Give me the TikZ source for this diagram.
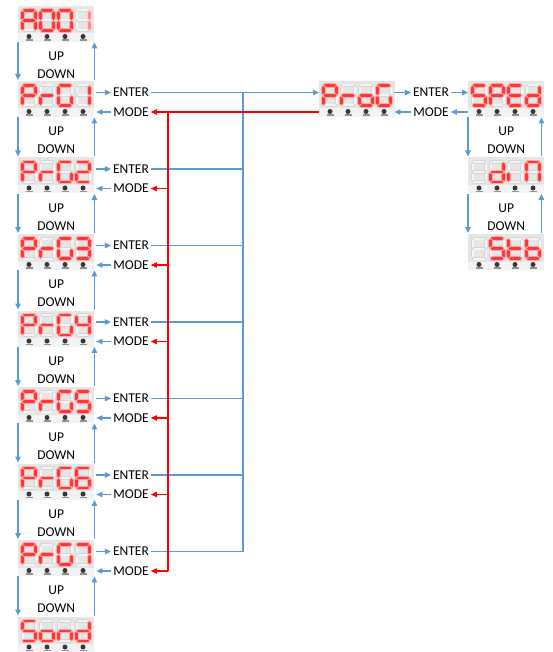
\documentclass[tikz,border=0pt]{standalone}
\usepackage{fontspec}
\setmainfont{Carlito}
\usetikzlibrary{arrows.meta,calc}
\definecolor{lblue}{RGB}{91,155,213}
\definecolor{litred}{RGB}{255,55,55}
\definecolor{glowred}{RGB}{255,170,170}
\definecolor{dimred}{RGB}{255,140,140}
\definecolor{dimglow}{RGB}{255,205,205}
\definecolor{dispbg}{RGB}{230,230,230}
\definecolor{btnbg}{RGB}{243,243,243}
\definecolor{segline}{RGB}{214,214,214}
\definecolor{segfill}{RGB}{245,245,245}
\definecolor{btncol}{RGB}{55,55,55}
\tikzset{
  seg a/.style={insert path={(4,2.5)--(14,2.5)}},
  seg g/.style={insert path={(4,12.5)--(14,12.5)}},
  seg d/.style={insert path={(4,22.5)--(14,22.5)}},
  seg f/.style={insert path={(2.5,4.5)--(2.5,10.5)}},
  seg b/.style={insert path={(15.5,4.5)--(15.5,10.5)}},
  seg e/.style={insert path={(2.5,14.5)--(2.5,20.5)}},
  seg c/.style={insert path={(15.5,14.5)--(15.5,20.5)}},
  seg none/.style={},
  segoff/.style={draw=segline,line width=3.6pt,line cap=round},
  segoffin/.style={draw=segfill,line width=2pt,line cap=round},
  segglow/.style={draw=glowred,line width=4.4pt,line cap=round},
  segon/.style={draw=litred,line width=2.6pt,line cap=round},
  glowfour/.style={segglow},
  onfour/.style={segon},
  btn/.style={fill=btncol},
  btnfoot/.style={draw=btncol!55,line width=1.2pt},
  pics/disp/.style n args={4}{code={
    \fill[dispbg] (-2,-2) rectangle (74,25.5);
    \fill[btnbg] (-2,25.5) rectangle (74,34);
    \foreach \i in {0,1,2,3}{
      \begin{scope}[shift={(\i*18,0)}]
        \foreach \s in {a,b,c,d,e,f,g}{\draw[segoff,seg \s];\draw[segoffin,seg \s];}
        \fill[btn] (9,28.5) circle[radius=2.5pt];
        \draw[btnfoot] (5.5,32) -- (12.5,32);
      \end{scope}}
    \begin{scope}\foreach \s in {#1}{\draw[segglow,seg \s];\draw[segon,seg \s];}\end{scope}
    \begin{scope}[shift={(18,0)}]\foreach \s in {#2}{\draw[segglow,seg \s];\draw[segon,seg \s];}\end{scope}
    \begin{scope}[shift={(36,0)}]\foreach \s in {#3}{\draw[segglow,seg \s];\draw[segon,seg \s];}\end{scope}
    \begin{scope}[shift={(54,0)}]\foreach \s in {#4}{\draw[glowfour,seg \s];\draw[onfour,seg \s];}\end{scope}
  }},
  lbl/.style={inner sep=2pt,text=black},
  dbox/.style={minimum width=76pt,minimum height=37pt,inner sep=0pt,anchor=north west},
  barr/.style={draw=lblue,line width=1.1pt,-{Triangle[length=6pt,width=5.5pt]}},
  bline/.style={draw=lblue,line width=1.1pt},
  rline/.style={draw=red,line width=1.1pt},
  rarr/.style={rline,-{Triangle[length=6pt,width=5.5pt]}},
}
\newcommand\leftrow[3]{\node[dbox] (#1) at (18,#2-3) {};\pic at (20,#2) {disp=#3};}
\begin{document}
\begin{tikzpicture}[x=1pt,y=-1pt,font=\fontsize{13.5}{16}\selectfont]
\useasboundingbox (0,0) rectangle (552,652);
% left column displays
\node[dbox] (L0) at (18,5) {};
\pic[glowfour/.style={draw=dimglow,line width=4.4pt,line cap=round},onfour/.style={draw=dimred,line width=2.6pt,line cap=round}] at (20,8) {disp={a,b,c,e,f,g}{a,b,c,d,e,f}{a,b,c,d,e,f}{b,c}};
\leftrow{L1}{83}{{a,b,e,f,g}{e,g}{a,c,d,e,f}{b,c}}
\leftrow{L2}{159.5}{{a,b,e,f,g}{e,g}{a,c,d,e,f}{a,b,d,e,g}}
\leftrow{L3}{236}{{a,b,e,f,g}{e,g}{a,c,d,e,f}{a,b,c,d,g}}
\leftrow{L4}{312.5}{{a,b,e,f,g}{e,g}{a,c,d,e,f}{b,c,f,g}}
\leftrow{L5}{389}{{a,b,e,f,g}{e,g}{a,c,d,e,f}{a,c,d,f,g}}
\leftrow{L6}{465.5}{{a,b,e,f,g}{e,g}{a,c,d,e,f}{a,c,d,e,f,g}}
\leftrow{L7}{542}{{a,b,e,f,g}{e,g}{a,c,d,e,f}{a,b,c}}
\leftrow{L8}{618.5}{{a,c,d,f,g}{c,d,e,g}{c,e,g}{b,c,d,e,g}}
% right displays
\node[dbox] (PG) at (319,80) {};
\pic at (321,83) {disp={a,b,e,f,g}{e,g}{c,d,e,g}{a,c,d,e,f}};
\node[dbox] (R0) at (468,80) {};
\pic at (470,83) {disp={a,c,d,f,g}{a,b,e,f,g}{a,d,e,f,g}{b,c,d,e,g}};
\node[dbox] (R1) at (468,156.5) {};
\pic at (470,159.5) {disp={none}{b,c,d,e,g}{e}{a,b,c,e,f}};
\node[dbox] (R2) at (468,233) {};
\pic at (470,236) {disp={none}{a,c,d,f,g}{d,e,f,g}{c,d,e,f,g}};
% up/down left
\foreach \i [evaluate=\i as \j using int(\i+1)] in {0,...,7}{
  \draw[barr] (L\i.south west) -- (L\j.north west);
  \draw[barr] (L\j.north east) -- (L\i.south east);
  \node[lbl] (up\i) at ([yshift=-14pt]L\i.south) {UP};
  \node[lbl] (dn\i) at ([yshift=-32pt]L\i.south) {DOWN};
}
% up/down right
\foreach \i/\j in {0/1,1/2}{
  \draw[barr] (R\i.south west) -- (R\j.north west);
  \draw[barr] ([xshift=-3pt]R\j.north east) -- ([xshift=-3pt]R\i.south east);
  \node[lbl] (rup\i) at ([yshift=-14pt]R\i.south) {UP};
  \node[lbl] (rdn\i) at ([yshift=-32pt]R\i.south) {DOWN};
}
% enter / mode rows
\foreach \k [evaluate=\k as \ty using 83+76.5*(\k-1)] in {1,...,7}{
  \node[lbl] (en\k) at (131,\ty+9.5) {ENTER};
  \node[lbl] (mo\k) at (131,\ty+29) {MODE};
  \draw[barr,shorten <=2pt] (L\k.east |- en\k) -- (en\k.west);
  \draw[barr,shorten >=2pt] (mo\k.west) -- (L\k.east |- mo\k);
}
\coordinate (bus) at (243,0);
\coordinate (rbus) at (168,0);
\draw[barr] (en1.east) -- (PG.west |- en1);
\draw[bline] (bus |- en1) -- (bus |- en7);
\foreach \k in {2,...,7} \draw[bline] (en\k.east) -- (bus |- en\k);
\draw[rarr] (PG.west |- mo1) -- (mo1.east);
\draw[rline] (rbus |- mo1) -- (rbus |- mo7);
\foreach \k in {2,...,7} \draw[rarr] (rbus |- mo\k) -- (mo\k.east);
% right enter/mode
\node[lbl] (enR) at (431,92.5) {ENTER};
\node[lbl] (moR) at (431,112) {MODE};
\draw[barr,shorten <=-1pt] (PG.east |- enR) -- (enR.west);
\draw[barr] (enR.east) -- (R0.west |- enR);
\draw[barr] (R0.west |- moR) -- (moR.east);
\draw[barr,shorten >=-1pt] (moR.west) -- (PG.east |- moR);
\end{tikzpicture}
\end{document}
